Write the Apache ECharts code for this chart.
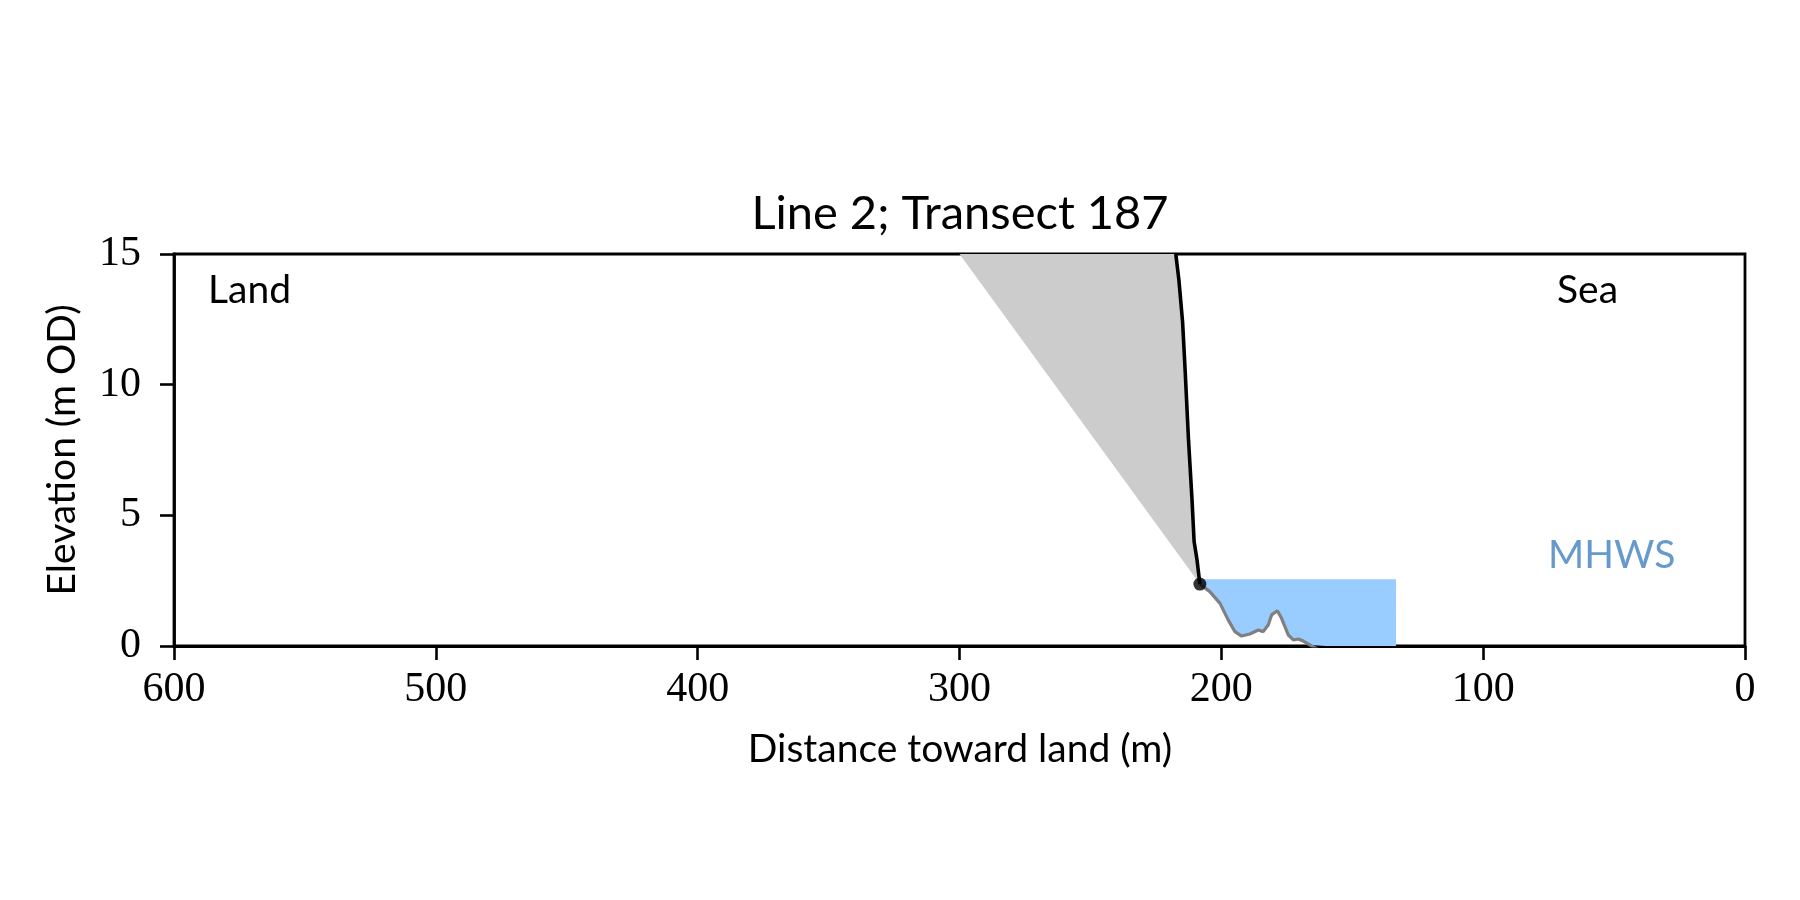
<!DOCTYPE html>
<html>
<head>
<meta charset="utf-8">
<script src="https://cdn.jsdelivr.net/npm/echarts@6/dist/echarts.min.js"></script>
<style>
html,body{margin:0;padding:0;background:#fff;}
#chart{width:1800px;height:900px;}
</style>
</head>
<body>
<div id="chart"></div>
<script>
// ---- data ----
var xTicks = [0, 100, 200, 300, 400, 500, 600];
var yTicks = [0, 5, 10, 15];
var mhws = 2.55;
var cliffLine = [[217.4,15],[216.2,14],[214.8,12.4],[213.8,10.5],[212.6,8],[211.2,5.6],[210.4,4.0],[209.3,3.3],[208.2,2.37]];
var cliffToe = [208.2, 2.37];
var recessionStart = [300, 15];
var profile = [[208.2,2.37],[204.4,2.08],[200.5,1.63],[197.4,1.0],[194.8,0.55],[192.3,0.38],[189.1,0.46],[185.9,0.61],[184.0,0.55],[182.1,0.80],[180.8,1.19],[178.6,1.35],[177.0,1.06],[174.4,0.42],[172.5,0.23],[170.6,0.27],[168.7,0.19],[166.2,0.04],[160,-0.3],[150,-0.6],[140,-0.9],[133.3,-1.1]];
var waterEnd = 133.3;

// polygons built from the data
var grayPoly = [recessionStart].concat(cliffLine);
var bluePoly = [[cliffToe[0], mhws], [waterEnd, mhws]].concat(profile.slice().reverse());

var SANS = 'Lato, "DejaVu Sans", sans-serif';
var SERIF = '"Liberation Serif", "DejaVu Serif", serif';

function polySeries(poly, color, z) {
  return {
    type: 'custom',
    z: z,
    silent: true,
    clip: true,
    data: [0],
    renderItem: function (params, api) {
      var pts = poly.map(function (p) { return api.coord(p); });
      var cs = params.coordSys;
      pts = echarts.graphic.clipPointsByRect(pts, {x: cs.x, y: cs.y, width: cs.width, height: cs.height});
      return { type: 'polygon', shape: { points: pts }, style: { fill: color, stroke: null } };
    }
  };
}

var chart = echarts.init(document.getElementById('chart'), null, {renderer: 'canvas'});
function axisCommon() {
  return {
    axisLine: {show: true, onZero: false, lineStyle: {color: '#000', width: 2.8}},
    axisTick: {show: true, inside: false, length: 14, lineStyle: {color: '#000', width: 2.6}},
    splitLine: {show: false}
  };
}
chart.setOption({
  animation: false,
  backgroundColor: '#fff',
  grid: {left: 174, right: 55, top: 254, bottom: 254, show: true, borderColor: '#000', borderWidth: 2.8, backgroundColor: 'transparent'},
  xAxis: Object.assign({
    type: 'value', position: 'bottom', min: 0, max: 600, interval: 100, inverse: true,
    axisLabel: {color: '#000', fontFamily: SERIF, fontSize: 42, margin: 23,
      formatter: function (v) { return xTicks.indexOf(v) >= 0 ? String(v) : ''; }}
  }, axisCommon()),
  yAxis: Object.assign({
    type: 'value', position: 'left', min: 0, max: 15, interval: 5,
    axisLabel: {color: '#000', fontFamily: SERIF, fontSize: 42, margin: 33,
      formatter: function (v) { return yTicks.indexOf(v) >= 0 ? String(v) : ''; }}
  }, axisCommon()),
  graphic: [
    {type: 'text', x: 960, y: 214, style: {text: 'Line 2; Transect 187', fontFamily: SANS, fontSize: 47, fill: '#000', align: 'center', verticalAlign: 'middle'}},
    {type: 'text', x: 960, y: 749, style: {text: 'Distance toward land (m)', fontFamily: SANS, fontSize: 39, fill: '#000', align: 'center', verticalAlign: 'middle'}},
    {type: 'text', x: 62, y: 450, rotation: Math.PI / 2, style: {text: 'Elevation (m OD)', fontFamily: SANS, fontSize: 39, fill: '#000', align: 'center', verticalAlign: 'middle'}},
    {type: 'text', x: 208, y: 290, style: {text: 'Land', fontFamily: SANS, fontSize: 39, fill: '#000', align: 'left', verticalAlign: 'middle'}},
    {type: 'text', x: 1557, y: 290, style: {text: 'Sea', fontFamily: SANS, fontSize: 39, fill: '#000', align: 'left', verticalAlign: 'middle'}},
    {type: 'text', x: 1548, y: 555, style: {text: 'MHWS', fontFamily: SANS, fontSize: 39, fill: '#6699cc', align: 'left', verticalAlign: 'middle'}}
  ],
  series: [
    polySeries(grayPoly, '#cccccc', 1),
    polySeries(bluePoly, '#99ccff', 2),
    {type: 'line', z: 3, data: profile, showSymbol: false, symbol: 'none', clip: true,
      lineStyle: {color: '#808080', width: 3.2}},
    {type: 'line', z: 4, data: cliffLine, showSymbol: false, symbol: 'none', clip: true,
      lineStyle: {color: '#000', width: 3.6}},
    {type: 'scatter', z: 5, data: [cliffToe], symbol: 'circle', symbolSize: 13,
      itemStyle: {color: '#000'}}
  ]
});
</script>
</body>
</html>
